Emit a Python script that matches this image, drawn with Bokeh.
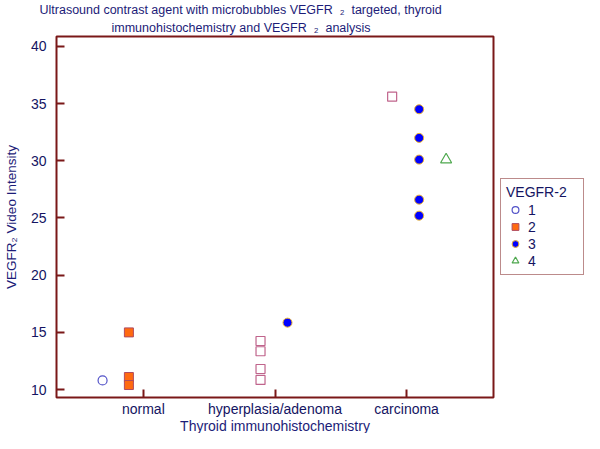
from bokeh.plotting import figure
from bokeh.layouts import row
from bokeh.models import FixedTicker, Legend, LegendItem, Title
from bokeh.embed import file_html
from bokeh.resources import INLINE

# ---------------- data ----------------
categories = ["normal", "hyperplasia/adenoma", "carcinoma"]

g1_cat = ["normal"]
g1_val = [10.8]

g2_cat = ["normal", "normal", "normal"]
g2_val = [15.0, 11.1, 10.4]

g2o_cat = ["hyperplasia/adenoma", "hyperplasia/adenoma", "hyperplasia/adenoma",
           "hyperplasia/adenoma", "carcinoma"]
g2o_val = [14.25, 13.35, 11.8, 10.85, 35.6]

g3_cat = ["hyperplasia/adenoma", "carcinoma", "carcinoma", "carcinoma",
          "carcinoma", "carcinoma"]
g3_val = [15.85, 34.5, 32.0, 30.1, 26.6, 25.2]

g4_cat = ["carcinoma"]
g4_val = [30.1]

y_ticks = [10, 15, 20, 25, 30, 35, 40]
legend_labels = ["1", "2", "3", "4"]

# ---------------- styling ----------------
FONT = "Liberation Sans"
FRAME = "#7a1818"
NAVY = "#1c1c78"
TICKC = "#141462"

STYLES = [
    dict(marker="circle", size=9, fill_color=None, line_color="#5252c8", line_width=1.2),
    dict(marker="square", size=9, fill_color="#ff6a10", line_color="#b04a5e", line_width=1),
    dict(marker="circle", size=9, fill_color="#0000ff", line_color="#e8b030", line_width=1),
    dict(marker="triangle", size=11, fill_color=None, line_color="#4ea84e", line_width=1.2),
]
OPEN_SQ = dict(marker="square", size=9, fill_color=None, line_color="#c0648c", line_width=1.2)
OFFSETS = [-0.31, -0.11, 0.095, 0.30]

pos = {c: i + 1 for i, c in enumerate(categories)}


def xs(cats, off):
    return [pos[c] + off for c in cats]


groups = [(g1_cat, g1_val), (g2_cat, g2_val), (g3_cat, g3_val), (g4_cat, g4_val)]

p = figure(width=495, height=433, x_range=(0.34, 3.66), y_range=(9.31, 40.86),
           output_backend="svg", toolbar_location=None, title=None,
           min_border_left=51, min_border_right=2, min_border_top=32,
           min_border_bottom=30)

p.grid.visible = False
p.outline_line_color = FRAME
p.outline_line_width = 2
p.outline_line_alpha = 1.0

for ax in (p.xaxis[0], p.yaxis[0]):
    ax.axis_line_color = None
    ax.major_tick_line_color = FRAME
    ax.major_tick_line_width = 2
    ax.major_tick_in = 8
    ax.major_tick_out = 0
    ax.minor_tick_line_color = None
    ax.major_label_text_font = FONT
    ax.major_label_text_font_size = "14px"
    ax.major_label_text_color = TICKC
    ax.axis_label_text_font = FONT
    ax.axis_label_text_font_size = "13.5px"
    ax.axis_label_text_font_style = "normal"
    ax.axis_label_text_color = NAVY

p.xaxis.ticker = FixedTicker(ticks=[pos[c] for c in categories])
p.xaxis.major_label_overrides = {pos[c]: c for c in categories}
p.xaxis.major_label_standoff = 3

p.yaxis.ticker = FixedTicker(ticks=y_ticks)
p.yaxis.axis_label = "VEGFR\u2082 Video Intensity"
p.yaxis.major_label_standoff = 10
p.yaxis.axis_label_standoff = 9

# x axis title, placed below the tick labels
p.add_layout(Title(text="Thyroid immunohistochemistry", align="center",
                   vertical_align="top",
                   text_font=FONT, text_font_size="14px",
                   text_font_style="normal", text_color=NAVY, standoff=-4),
             "below")

# ---------------- marks ----------------
r1 = p.scatter(xs(g1_cat, OFFSETS[0]), g1_val, **STYLES[0])
r2 = p.scatter(xs(g2_cat, OFFSETS[1]), g2_val, **STYLES[1])
p.scatter(xs(g2o_cat, OFFSETS[1]), g2o_val, **OPEN_SQ)
r3 = p.scatter(xs(g3_cat, OFFSETS[2]), g3_val, **STYLES[2])
r4 = p.scatter(xs(g4_cat, OFFSETS[3]), g4_val, **STYLES[3])

# ---------------- title (two lines) ----------------
t2 = Title(text="immunohistochemistry and VEGFR \u00a0\u2082\u00a0 analysis",
           align="left", offset=55, text_font=FONT, text_font_size="12.5px",
           text_font_style="normal", text_color=NAVY, standoff=4)
t1 = Title(text="Ultrasound contrast agent with microbubbles VEGFR \u00a0\u2082\u00a0 targeted, thyroid",
           align="left", offset=-17, text_font=FONT, text_font_size="12.5px",
           text_font_style="normal", text_color=NAVY, standoff=0)
p.add_layout(t2, "above")
p.add_layout(t1, "above")

# ---------------- legend (own small panel on the right) ----------------
# the key renderers carry the same group data; their points fall outside
# this panel's ranges, so only the legend keys are visible here
leg = figure(width=89, height=433, x_range=(-2, -1), y_range=(0, 1),
             x_axis_type=None, y_axis_type=None, output_backend="svg",
             toolbar_location=None, title=None, min_border=0)
leg.outline_line_color = None
key_renderers = [leg.scatter(xs(c, o), v, **s)
                 for (c, v), o, s in zip(groups, OFFSETS, STYLES)]

items = [LegendItem(label=l, renderers=[r]) for l, r in zip(legend_labels, key_renderers)]
legend = Legend(items=items, title="VEGFR-2", location=(5, 122),
                border_line_color=FRAME, border_line_width=1.5,
                background_fill_color="white", background_fill_alpha=1.0,
                label_text_font=FONT, label_text_font_size="14px",
                label_text_color=TICKC,
                title_text_font=FONT, title_text_font_size="14px",
                title_text_font_style="normal", title_text_color=TICKC,
                padding=5, spacing=0, glyph_width=18, glyph_height=17,
                label_height=17, label_width=50, label_standoff=4,
                title_standoff=1, margin=0)
leg.add_layout(legend)

layout = row(p, leg)

open("out.html", "w").write(file_html(layout, INLINE))
